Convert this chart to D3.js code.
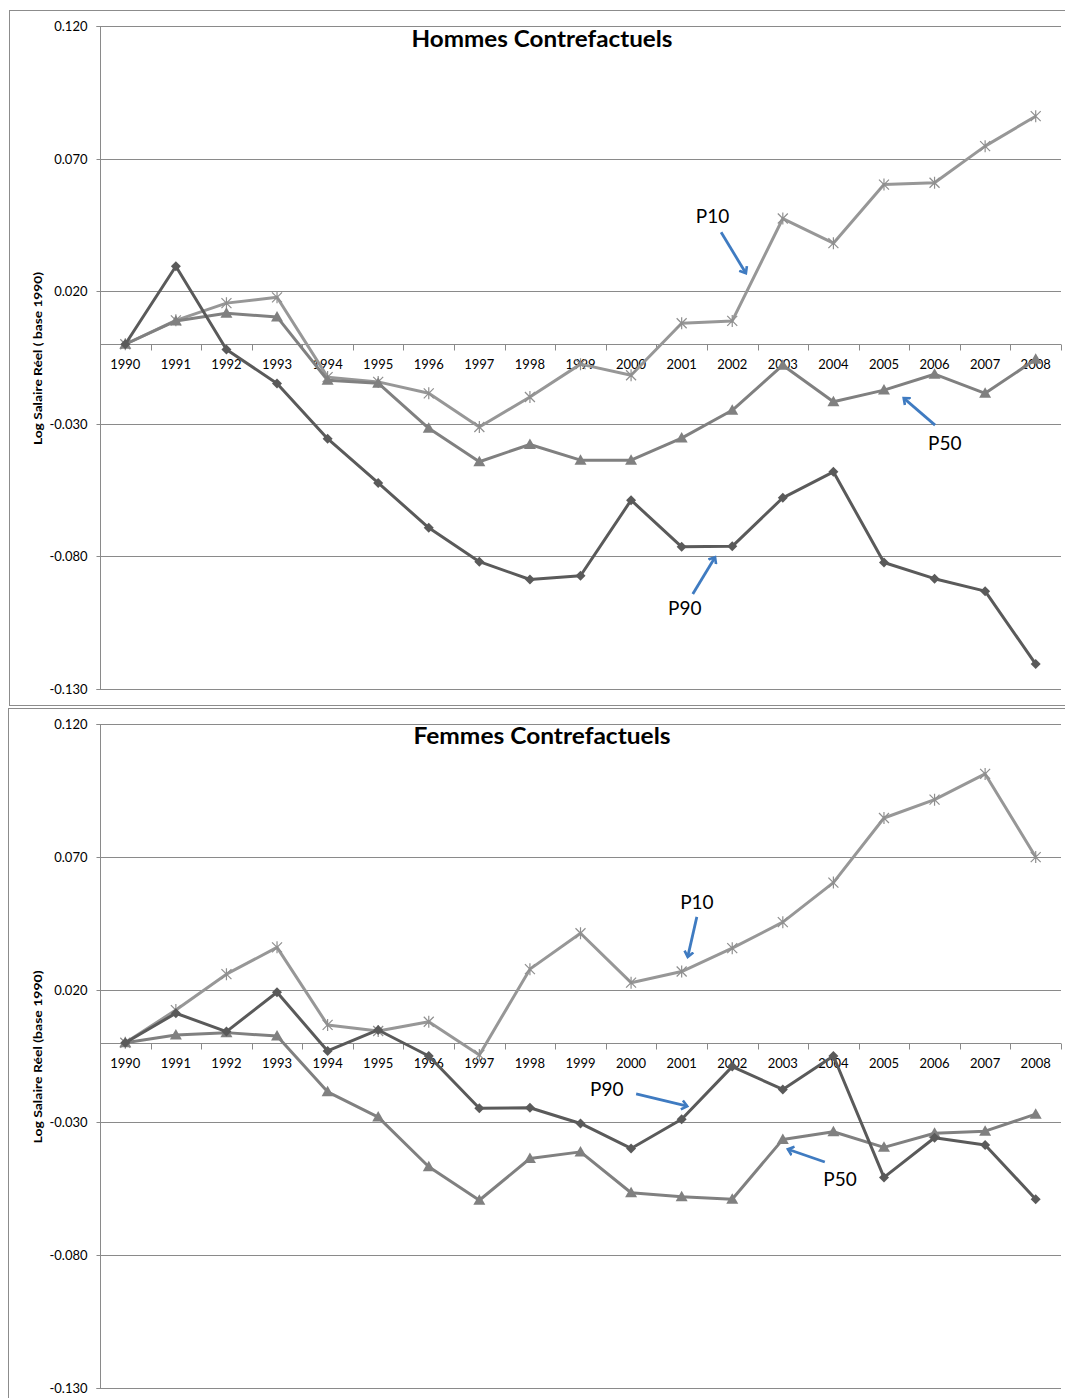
<!DOCTYPE html>
<html>
<head>
<meta charset="utf-8">
<script src="https://cdn.jsdelivr.net/npm/d3@7"></script>
<style>
  html, body { margin: 0; padding: 0; background: #fff; }
  svg { display: block; font-family: Lato, "Open Sans", sans-serif; }
</style>
</head>
<body>
<svg id="chart" width="1065" height="1398"></svg>
<script>
// ---------- DATA ----------
const years = ["1990","1991","1992","1993","1994","1995","1996","1997","1998","1999",
               "2000","2001","2002","2003","2004","2005","2006","2007","2008"];
const yTicks = [0.120, 0.070, 0.020, -0.030, -0.080, -0.130];

const hommesP10 = [0, 0.009, 0.0155, 0.0177, -0.0124, -0.0142, -0.0185, -0.0312, -0.0199, -0.0075,
                   -0.0117, 0.0079, 0.0088, 0.0474, 0.0381, 0.0602, 0.0609, 0.0747, 0.0860];
const hommesP50 = [0, 0.0088, 0.0117, 0.0103, -0.0136, -0.0147, -0.0317, -0.0443, -0.0378, -0.0437,
                   -0.0437, -0.0354, -0.0249, -0.0079, -0.0217, -0.0173, -0.0113, -0.0185, -0.0057];
const hommesP90 = [0, 0.0294, -0.0020, -0.0148, -0.0356, -0.0523, -0.0692, -0.0820, -0.0887, -0.0873,
                   -0.0588, -0.0764, -0.0762, -0.0579, -0.0481, -0.0823, -0.0884, -0.0931, -0.1206];

const femmesP10 = [0, 0.0123, 0.0258, 0.0359, 0.0067, 0.0044, 0.0079, -0.0046, 0.0277, 0.0412,
                   0.0226, 0.0268, 0.0356, 0.0454, 0.0603, 0.0846, 0.0915, 0.1012, 0.0699];
const femmesP50 = [0, 0.0029, 0.0038, 0.0025, -0.0185, -0.0280, -0.0467, -0.0593, -0.0436, -0.0411,
                   -0.0565, -0.0580, -0.0589, -0.0364, -0.0335, -0.0394, -0.0341, -0.0333, -0.0269];
const femmesP90 = [0, 0.0111, 0.0042, 0.0190, -0.0031, 0.0048, -0.0050, -0.0247, -0.0245, -0.0304,
                   -0.0398, -0.0288, -0.0090, -0.0176, -0.0050, -0.0507, -0.0358, -0.0385, -0.0589];

const seriesNames = ["P10", "P50", "P90"];

// annotations in data units: [label, labelIndex, labelValue, arrowFromIdx, arrowFromVal, arrowToIdx, arrowToVal]
const hommesNotes = [
  ["P10", 11.28, 0.0456, 11.78, 0.0422, 12.27, 0.0268],
  ["P50", 15.87, -0.0399, 16.01, -0.0305, 15.39, -0.0203],
  ["P90", 10.73, -0.1021, 11.22, -0.0942, 11.66, -0.0803]
];
const femmesNotes = [
  ["P10", 10.97, 0.0504, 11.30, 0.0474, 11.12, 0.0323],
  ["P90", 9.19, -0.0201, 10.10, -0.0193, 11.11, -0.0239],
  ["P50", 13.80, -0.0540, 13.83, -0.0449, 13.10, -0.0401]
];

// ---------- STYLE ----------
const gridColor = "#8a8a8a";
const colors = { P10: "#979797", P50: "#808080", P90: "#5a5a5a" };
const arrowColor = "#3f7bc1";

const svg = d3.select("#chart");

const defs = svg.append("defs");
defs.append("marker")
  .attr("id", "arrowhead")
  .attr("viewBox", "-6 -6 12 12")
  .attr("refX", 0).attr("refY", 0)
  .attr("markerWidth", 12).attr("markerHeight", 12)
  .attr("markerUnits", "userSpaceOnUse")
  .attr("orient", "auto")
  .append("path")
  .attr("d", "M-5.5,-4.5 L0,0 L-5.5,4.5")
  .attr("fill", "none")
  .attr("stroke", arrowColor)
  .attr("stroke-width", 2.6);

const fmt = v => d3.format(".3f")(v).replace("\u2212", "-");

function drawPanel(cfg) {
  const g = svg.append("g");

  // panel border
  g.append("rect")
    .attr("x", cfg.box[0] + 0.5).attr("y", cfg.box[1] + 0.5)
    .attr("width", cfg.box[2]).attr("height", cfg.box[3])
    .attr("fill", "none").attr("stroke", "#8c8c8c").attr("stroke-width", 1);

  const left = 100, right = 1061;
  const x = d3.scaleBand().domain(years).range([left, right]).padding(0);
  const bw = x.bandwidth();
  const cx = d => x(d) + bw / 2;
  const xi = d3.scaleLinear().domain([0, years.length - 1]).range([cx(years[0]), cx(years[years.length - 1])]);
  const y = d3.scaleLinear().domain([-0.13, 0.12]).range([cfg.bottom, cfg.top]);

  // gridlines
  g.append("g").selectAll("line").data(yTicks).join("line")
    .attr("x1", left).attr("x2", right)
    .attr("y1", d => Math.round(y(d)) + 0.5).attr("y2", d => Math.round(y(d)) + 0.5)
    .attr("stroke", gridColor).attr("stroke-width", 1);

  // y axis
  const yAxis = d3.axisLeft(y).tickValues(yTicks).tickFormat(fmt)
    .tickSize(4).tickPadding(9);
  const ya = g.append("g").attr("transform", `translate(${left + 0.5},0)`).call(yAxis);
  ya.select(".domain").attr("stroke", gridColor).attr("d", `M-4,${Math.round(y(0.12))+0.5}H0V${Math.round(y(-0.13))+0.5}H-4`);
  ya.selectAll(".tick line").attr("stroke", gridColor);
  ya.selectAll(".tick").attr("transform", d => `translate(0,${Math.round(y(d)) + 0.5})`);
  ya.selectAll("text").attr("fill", "#000").style("font-size", "13px").style("font-family", "Lato, 'Open Sans', sans-serif");

  // category axis at zero
  const y0 = Math.round(y(0)) + 0.5;
  g.append("line").attr("x1", left).attr("x2", right).attr("y1", y0).attr("y2", y0)
    .attr("stroke", gridColor).attr("stroke-width", 1);
  const bounds = years.map(d => x(d)).concat([right]);
  g.append("g").selectAll("line").data(bounds).join("line")
    .attr("x1", d => Math.round(d) + 0.5).attr("x2", d => Math.round(d) + 0.5)
    .attr("y1", y0).attr("y2", y0 + 6)
    .attr("stroke", gridColor).attr("stroke-width", 1);
  g.append("g").selectAll("text").data(years).join("text")
    .attr("x", d => cx(d)).attr("y", y0 + 24)
    .attr("text-anchor", "middle")
    .style("font-size", "13px")
    .text(d => d);

  // title
  g.append("text")
    .attr("x", 542).attr("y", cfg.titleY)
    .attr("text-anchor", "middle")
    .style("font-size", "23px").style("font-weight", "bold")
    .attr("textLength", cfg.titleLen).attr("lengthAdjust", "spacingAndGlyphs")
    .text(cfg.title);

  // y axis title
  const midY = (cfg.top + cfg.bottom) / 2 + 1;
  g.append("text")
    .attr("transform", `translate(42,${midY}) rotate(-90)`)
    .attr("text-anchor", "middle")
    .style("font-size", "12px").style("font-weight", "bold")
    .attr("textLength", 173).attr("lengthAdjust", "spacingAndGlyphs")
    .text(cfg.yTitle);

  const line = d3.line().x((d, i) => cx(years[i])).y(d => y(d));

  const data = { P10: cfg.p10, P50: cfg.p50, P90: cfg.p90 };
  seriesNames.forEach(name => {
    const vals = data[name];
    g.append("path").datum(vals)
      .attr("d", line)
      .attr("fill", "none")
      .attr("stroke", colors[name])
      .attr("stroke-width", 3)
      .attr("stroke-linejoin", "round");

    const mk = g.append("g").selectAll("path").data(vals).join("path")
      .attr("transform", (d, i) => `translate(${cx(years[i])},${y(d)})`);
    if (name === "P10") {
      mk.attr("d", "M-5,-5L5,5M-5,5L5,-5M0,-6L0,6")
        .attr("stroke", "#8f8f8f").attr("stroke-width", 1.2).attr("fill", "none");
    } else if (name === "P50") {
      mk.attr("d", "M0,-6L6,4.5L-6,4.5Z").attr("fill", colors.P50);
    } else {
      mk.attr("d", "M0,-5L5,0L0,5L-5,0Z").attr("fill", colors.P90);
    }
  });

  // annotations
  cfg.notes.forEach(n => {
    g.append("text")
      .attr("x", xi(n[1])).attr("y", y(n[2]))
      .style("font-size", "19px")
      .text(n[0]);
    g.append("line")
      .attr("x1", xi(n[3])).attr("y1", y(n[4]))
      .attr("x2", xi(n[5])).attr("y2", y(n[6]))
      .attr("stroke", arrowColor).attr("stroke-width", 2.8)
      .attr("marker-end", "url(#arrowhead)");
  });
}

drawPanel({
  box: [9, 10, 1070, 695],
  top: 26, bottom: 689,
  title: "Hommes Contrefactuels", titleY: 47, titleLen: 261,
  yTitle: "Log Salaire  Réel ( base 1990)",
  p10: hommesP10, p50: hommesP50, p90: hommesP90,
  notes: hommesNotes
});

drawPanel({
  box: [8, 708, 1070, 700],
  top: 724, bottom: 1388,
  title: "Femmes Contrefactuels", titleY: 744, titleLen: 257,
  yTitle: "Log Salaire  Réel (base  1990)",
  p10: femmesP10, p50: femmesP50, p90: femmesP90,
  notes: femmesNotes
});
</script>
</body>
</html>
